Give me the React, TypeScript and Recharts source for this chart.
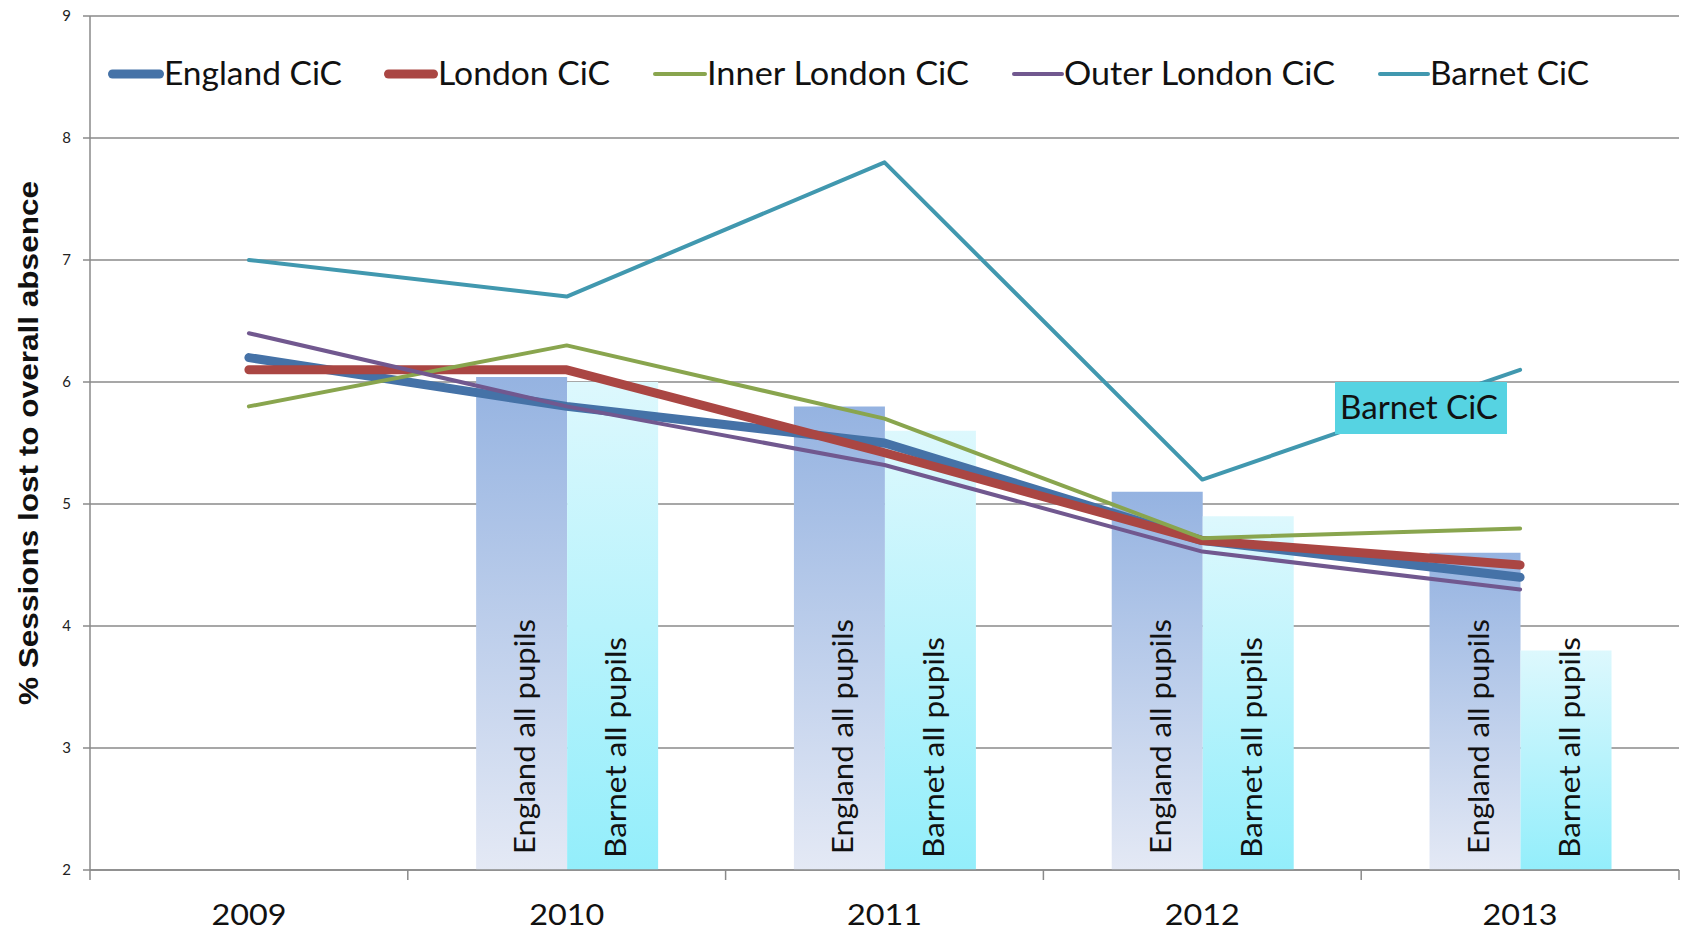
import { ComposedChart, Bar, Line, XAxis, YAxis, CartesianGrid, LabelList } from "recharts";

const YEARS = ["2009", "2010", "2011", "2012", "2013"];
const ENGLAND_CIC = [6.2, 5.8, 5.5, 4.7, 4.4];
const LONDON_CIC = [6.1, 6.1, 5.42, 4.7, 4.5];
const INNER_LONDON_CIC = [5.8, 6.3, 5.7, 4.72, 4.8];
const OUTER_LONDON_CIC = [6.4, 5.8, 5.32, 4.61, 4.3];
const BARNET_CIC = [7.0, 6.7, 7.8, 5.2, 6.1];
const ENGLAND_ALL: (number | null)[] = [null, 6.04, 5.8, 5.1, 4.6];
const BARNET_ALL: (number | null)[] = [null, 6.0, 5.6, 4.9, 3.8];
const Y_TICKS = [2, 3, 4, 5, 6, 7, 8, 9];

const data = YEARS.map((year, i) => ({
  year,
  englandCic: ENGLAND_CIC[i],
  londonCic: LONDON_CIC[i],
  innerCic: INNER_LONDON_CIC[i],
  outerCic: OUTER_LONDON_CIC[i],
  barnetCic: BARNET_CIC[i],
  englandAll: ENGLAND_ALL[i],
  barnetAll: BARNET_ALL[i],
}));

const LINES = [
  { key: "englandCic", name: "England CiC", color: "#4572A7", width: 9, markX: 108, textX: 164, textLen: 178 },
  { key: "londonCic", name: "London CiC", color: "#AA4643", width: 9, markX: 384, textX: 438, textLen: 172 },
  { key: "innerCic", name: "Inner London CiC", color: "#89A54E", width: 4, markX: 653, textX: 707, textLen: 262 },
  { key: "outerCic", name: "Outer London CiC", color: "#71588F", width: 4, markX: 1012, textX: 1064, textLen: 271 },
  { key: "barnetCic", name: "Barnet CiC", color: "#4198AF", width: 4, markX: 1378, textX: 1430, textLen: 159 },
];

const W = 1688;
const H = 934;
const PLOT_LEFT = 90;
const PLOT_RIGHT = 1679;
const PLOT_BOTTOM = 870;
const BAND = (PLOT_RIGHT - PLOT_LEFT) / YEARS.length;
const GRID = "#8a8a8a";
const FONT = "Lato, 'Open Sans', sans-serif";

function XTick(props: any) {
  const { x, payload, index } = props;
  const left = x - BAND / 2;
  return (
    <g>
      <line x1={left} x2={left} y1={PLOT_BOTTOM} y2={PLOT_BOTTOM + 10} stroke={GRID} strokeWidth={1.5} />
      {index === YEARS.length - 1 && (
        <line x1={x + BAND / 2} x2={x + BAND / 2} y1={PLOT_BOTTOM} y2={PLOT_BOTTOM + 10} stroke={GRID} strokeWidth={1.5} />
      )}
      <text x={x} y={925} textAnchor="middle" fontFamily={FONT} fontSize={28} fill="#111" textLength={75} lengthAdjust="spacingAndGlyphs">
        {payload.value}
      </text>
    </g>
  );
}

function YTick(props: any) {
  const { x, y, payload } = props;
  return (
    <text x={x} y={y} dy={5} textAnchor="end" fontFamily={FONT} fontSize={15} fill="#222">
      {payload.value}
    </text>
  );
}

function barLabel(text: string, len: number, offset: number) {
  return (props: any) => {
    const { x, y, width, height, value } = props;
    if (value == null) return null;
    const cx = x + width / 2 + 2;
    const by = y + height - offset;
    return (
      <text
        transform={`translate(${cx},${by}) rotate(-90)`}
        textAnchor="start"
        dominantBaseline="central"
        fontFamily={FONT}
        fontSize={29}
        fill="#111"
        textLength={len}
        lengthAdjust="spacingAndGlyphs"
      >
        {text}
      </text>
    );
  };
}

export default function App() {
  return (
    <div style={{ position: "absolute", left: 0, top: 0, width: W, height: H, background: "#fff" }}>
      <ComposedChart
        width={W}
        height={H}
        data={data}
        margin={{ top: 16, right: W - PLOT_RIGHT, bottom: 0, left: 0 }}
        barGap={0}
        barCategoryGap="21.5%"
      >
        <defs>
          <linearGradient id="gradEng" x1="0" y1="0" x2="0" y2="1">
            <stop offset="0%" stopColor="#95B3E1" />
            <stop offset="100%" stopColor="#E4E9F5" />
          </linearGradient>
          <linearGradient id="gradBar" x1="0" y1="0" x2="0" y2="1">
            <stop offset="0%" stopColor="#DDF8FD" />
            <stop offset="100%" stopColor="#93EEFB" />
          </linearGradient>
        </defs>
        <CartesianGrid vertical={false} stroke={GRID} strokeWidth={1.5} />
        <XAxis
          dataKey="year"
          height={H - PLOT_BOTTOM}
          axisLine={{ stroke: GRID, strokeWidth: 1.5 }}
          tickLine={false}
          tick={<XTick />}
          interval={0}
        />
        <YAxis
          width={PLOT_LEFT}
          domain={[2, 9]}
          ticks={Y_TICKS}
          allowDataOverflow
          axisLine={{ stroke: GRID, strokeWidth: 1.5 }}
          tickLine={{ stroke: GRID, strokeWidth: 1.5 }}
          tickSize={7}
          tickMargin={12}
          tick={<YTick />}
        />
        <Bar dataKey="englandAll" fill="url(#gradEng)" isAnimationActive={false} legendType="none">
          <LabelList dataKey="englandAll" content={barLabel("England all pupils", 235, 16)} />
        </Bar>
        <Bar dataKey="barnetAll" fill="url(#gradBar)" isAnimationActive={false} legendType="none">
          <LabelList dataKey="barnetAll" content={barLabel("Barnet all pupils", 221, 12)} />
        </Bar>
        {LINES.map((l) => (
          <Line
            key={l.key}
            type="linear"
            dataKey={l.key}
            name={l.name}
            stroke={l.color}
            strokeWidth={l.width}
            strokeLinecap="round"
            strokeLinejoin="round"
            dot={false}
            activeDot={false}
            isAnimationActive={false}
          />
        ))}
      </ComposedChart>
      <svg width={W} height={H} style={{ position: "absolute", left: 0, top: 0, pointerEvents: "none" }}>
        {LINES.map((l) => (
          <g key={l.key}>
            <line
              x1={l.markX + l.width / 2}
              x2={l.textX - l.width / 2}
              y1={74}
              y2={74}
              stroke={l.color}
              strokeWidth={l.width}
              strokeLinecap="round"
            />
            <text x={l.textX} y={85} fontFamily={FONT} fontSize={32} fill="#111" textLength={l.textLen} lengthAdjust="spacingAndGlyphs">
              {l.name}
            </text>
          </g>
        ))}
        <text
          transform="translate(38,443) rotate(-90)"
          textAnchor="middle"
          fontFamily="'Liberation Sans', Arial, sans-serif"
          fontWeight="bold"
          fontSize={28}
          fill="#111"
          textLength={524}
          lengthAdjust="spacingAndGlyphs"
        >
          % Sessions lost to overall absence
        </text>
        <rect x={1335} y={382} width={172} height={52} fill="#56D3E2" />
        <text x={1340} y={419} fontFamily={FONT} fontSize={32} fill="#111" textLength={158} lengthAdjust="spacingAndGlyphs">
          Barnet CiC
        </text>
      </svg>
    </div>
  );
}
